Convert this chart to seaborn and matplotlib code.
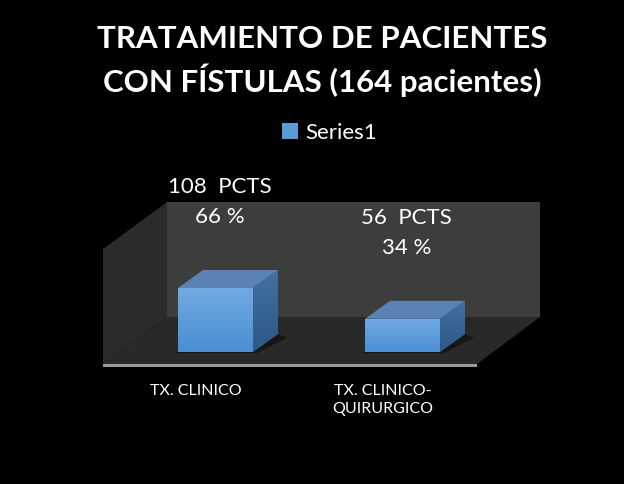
import numpy as np
import matplotlib
matplotlib.use('Agg')
import matplotlib.pyplot as plt
import matplotlib.transforms as mtransforms
import seaborn as sns
from matplotlib.patches import Polygon, Patch
from matplotlib.colors import LinearSegmentedColormap

# data
categories = ['TX. CLINICO', 'TX. CLINICO-\nQUIRURGICO']
patients = [108, 56]
percents = [66, 34]
series_name = 'Series1'
title = 'TRATAMIENTO DE PACIENTES\nCON FÍSTULAS (164 pacientes)'

W, H = 624, 484
PX_PER_CAT = 187.0      # pixels between category centres
PX_PER_VAL = 0.5926     # pixels per patient
CAT0_PX, ZERO_PX = 215.5, 352.0
DEPTH_PX = (25, 18)     # bar depth offset in pixels

sns.set_theme(style='dark')
plt.rcParams['font.family'] = ['Lato', 'DejaVu Sans']

fig = plt.figure(figsize=(W / 100, H / 100), dpi=100, facecolor='black')


def fx(px):
    return px / W


def fy(py):
    return 1 - py / H


# plot area: back wall spans x 103..540, y 202..367 in image pixels
ax = fig.add_axes([fx(103), fy(367), (540 - 103) / W, (367 - 202) / H])
ax.set_facecolor('none')
ax.set_xlim((103 - CAT0_PX) / PX_PER_CAT, (540 - CAT0_PX) / PX_PER_CAT)
ax.set_ylim((ZERO_PX - 367) / PX_PER_VAL, (ZERO_PX - 202) / PX_PER_VAL)
xlim, ylim = ax.get_xlim(), ax.get_ylim()


def wall(pts, color, z=0):
    ax.add_patch(Polygon([(fx(x), fy(y)) for x, y in pts], closed=True,
                         transform=fig.transFigure, facecolor=color,
                         edgecolor='none', zorder=z, clip_on=False))


# 3d box: back wall, side wall, floor, front edge
wall([(167, 202), (540, 202), (540, 317), (167, 317)], '#3d3d3d')
wall([(103, 249), (167, 202), (167, 317), (103, 364)], '#2b2b2b')
wall([(103, 364), (167, 317), (540, 317), (477, 364)], '#292929')
wall([(103, 364), (477, 364), (477, 367), (103, 367)], '#9a9a9a')

sns.barplot(x=categories, y=patients, color='#5b9bd5', saturation=1,
            width=0.4, ax=ax, zorder=3, linewidth=0, edgecolor='none')

ddx = DEPTH_PX[0] / PX_PER_CAT
ddy = DEPTH_PX[1] / PX_PER_VAL
front_cmap = LinearSegmentedColormap.from_list('front', ['#4a8fd3', '#72aae3'])
side_cmap = LinearSegmentedColormap.from_list('side', ['#2c5886', '#42729f'])

for p, n, pct in zip(list(ax.containers[0]), patients, percents):
    x0, w, h = p.get_x(), p.get_width(), p.get_height()
    # shadow on the floor
    ax.add_patch(Polygon([(x0 - 0.03, -2), (x0 + w + 0.02, -2),
                          (x0 + w + ddx + 0.05, ddy * 0.8), (x0 + w + ddx, ddy)],
                         closed=True, facecolor='black', alpha=0.45,
                         edgecolor='none', zorder=2))
    side = Polygon([(x0 + w, 0), (x0 + w + ddx, ddy), (x0 + w + ddx, h + ddy), (x0 + w, h)],
                   closed=True, facecolor='#36679a', edgecolor='none', zorder=3)
    top = Polygon([(x0, h), (x0 + w, h), (x0 + w + ddx, h + ddy), (x0 + ddx, h + ddy)],
                  closed=True, facecolor='#5a82b2', edgecolor='none', zorder=3)
    ax.add_patch(side)
    ax.add_patch(top)
    grad = np.linspace(0, 1, 100).reshape(-1, 1)
    im = ax.imshow(grad, cmap=front_cmap, origin='lower', aspect='auto',
                   extent=(x0, x0 + w, 0, h), zorder=4)
    im.set_clip_path(p)
    im2 = ax.imshow(grad, cmap=side_cmap, origin='lower', aspect='auto',
                    extent=(x0 + w, x0 + w + ddx, 0, h + ddy), zorder=4)
    im2.set_clip_path(side)
    ax.annotate(f'{n}  PCTS\n{pct} %', xy=(x0 + w / 2, h + ddy), xytext=(3, 49),
                textcoords='offset points', ha='center', va='center',
                color='white', fontsize=16, linespacing=1.6)

ax.set_xlim(xlim)
ax.set_ylim(ylim)
ax.set_yticks([])
ax.set_xlabel('')
ax.set_ylabel('')
ax.grid(False)
for s in ax.spines.values():
    s.set_visible(False)
ax.tick_params(axis='x', length=0, pad=12, labelsize=11.5, labelcolor='white')
shift = mtransforms.ScaledTranslation(-19.5 / 100, 0, fig.dpi_scale_trans)
for lab in ax.get_xticklabels():
    lab.set_transform(lab.get_transform() + shift)
    lab.set_linespacing(1.4)

fig.text(fx(322), fy(61), title, ha='center', va='center', color='white',
         fontsize=22.5, fontweight='bold', linespacing=1.35)

fig.legend(handles=[Patch(facecolor='#5b9bd5', edgecolor='none', label=series_name)],
           loc='center', bbox_to_anchor=(fx(329), fy(133)), frameon=False,
           handlelength=0.75, handleheight=0.75, handletextpad=0.3,
           labelcolor='white', fontsize=16)

fig.savefig('out.png', dpi=100, facecolor='black')
